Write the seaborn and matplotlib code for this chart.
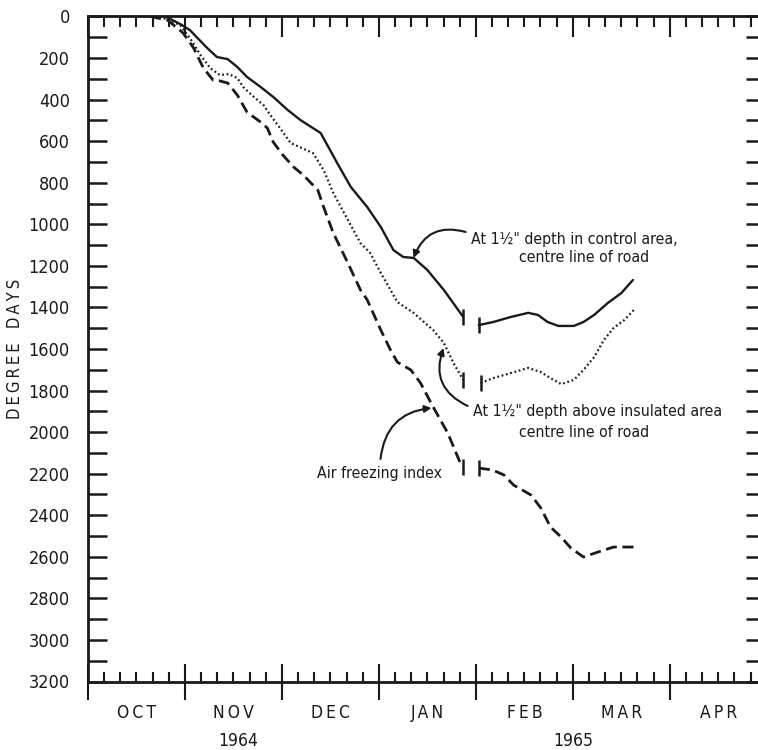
import pandas as pd
import seaborn as sns
import matplotlib.pyplot as plt
from matplotlib.ticker import MultipleLocator

# x = months counted from 1 Oct 1964 (every month drawn the same width)
# y = degree days (axis runs downward)

# At 1 1/2" depth in control area, centre line of road (solid)
control_x1 = [0.80, 0.87, 0.95, 1.05, 1.23, 1.33, 1.44, 1.54, 1.64, 1.78, 1.91, 2.06,
              2.19, 2.40, 2.57, 2.71, 2.88, 3.02, 3.15, 3.25, 3.36, 3.50, 3.67, 3.87]
control_y1 = [0, 17, 36, 65, 152, 195, 205, 243, 291, 339, 387, 450,
              498, 561, 705, 820, 917, 1013, 1124, 1157, 1162, 1220, 1316, 1446]
control_x2 = [4.03, 4.18, 4.36, 4.54, 4.64, 4.74, 4.85, 5.01, 5.11, 5.22, 5.36, 5.50, 5.62]
control_y2 = [1485, 1470, 1446, 1426, 1436, 1470, 1489, 1489, 1470, 1436, 1379, 1331, 1268]

# At 1 1/2" depth above insulated area, centre line of road (dotted)
insul_x1 = [0.74, 0.95, 1.05, 1.16, 1.26, 1.36, 1.45, 1.54, 1.60, 1.71, 1.81, 1.88, 1.98,
            2.09, 2.32, 2.43, 2.53, 2.68, 2.81, 2.91, 3.02, 3.12, 3.19, 3.36, 3.56, 3.67,
            3.77, 3.87]
insul_y1 = [0, 41, 103, 185, 248, 282, 277, 296, 339, 387, 426, 474, 537,
            609, 657, 739, 849, 979, 1090, 1138, 1234, 1316, 1374, 1427, 1509, 1571,
            1668, 1749]
insul_x2 = [4.05, 4.18, 4.36, 4.54, 4.67, 4.77, 4.88, 5.01, 5.11, 5.22, 5.32, 5.42, 5.53, 5.63]
insul_y2 = [1764, 1740, 1716, 1691, 1711, 1740, 1769, 1749, 1701, 1639, 1557, 1499, 1461, 1412]

# Air freezing index (dashed)
air_x1 = [0.64, 0.82, 0.98, 1.09, 1.19, 1.29, 1.36, 1.44, 1.54, 1.64, 1.78, 1.85, 1.91,
          2.01, 2.12, 2.22, 2.37, 2.43, 2.53, 2.68, 2.81, 2.88, 3.02, 3.12, 3.19, 3.33,
          3.43, 3.56, 3.71, 3.84, 3.87]
air_y1 = [0, 17, 79, 152, 248, 306, 310, 320, 378, 460, 508, 537, 604,
          667, 724, 763, 835, 917, 1042, 1186, 1316, 1364, 1509, 1605, 1663, 1701,
          1764, 1879, 2004, 2149, 2168]
air_x2 = [4.03, 4.17, 4.29, 4.39, 4.57, 4.67, 4.77, 4.88, 4.98, 5.11, 5.26, 5.42, 5.63]
air_y2 = [2173, 2182, 2206, 2255, 2303, 2365, 2457, 2505, 2558, 2601, 2577, 2553, 2553]

months = ['OCT', 'NOV', 'DEC', 'JAN', 'FEB', 'MAR', 'APR']
years = ['1964', '1965']
year_x = [1.55, 5.0]

sns.set_style('ticks')
plt.rcParams['font.family'] = ['DejaVu Sans Condensed', 'DejaVu Sans']
plt.rcParams['font.stretch'] = 'condensed'

fig = plt.figure(figsize=(7.58, 7.5), dpi=100)
ax = fig.add_axes([88 / 758, 68.5 / 750, 670 / 758, 665 / 750])

ink = '#1a1a1a'
series = [
    (control_x1, control_y1, control_x2, control_y2, '-', 1.7),
    (insul_x1, insul_y1, insul_x2, insul_y2, (0, (0.8, 1.2)), 1.6),
    (air_x1, air_y1, air_x2, air_y2, (0, (4, 2)), 2.0),
]
for x1, y1, x2, y2, ls, lw in series:
    for xs, ys in [(x1, y1), (x2, y2)]:
        df = pd.DataFrame({'month': xs, 'dd': ys})
        sns.lineplot(data=df, x='month', y='dd', ax=ax, color=ink, linestyle=ls,
                     linewidth=lw, estimator=None, sort=False)
    # small bars marking the break in the record
    ax.plot([x1[-1]], [y1[-1]], marker='|', markersize=11, mew=1.8, color=ink)
    ax.plot([x2[0]], [y2[0]], marker='|', markersize=11, mew=1.8, color=ink)
for line in ax.get_lines():
    line.set_solid_joinstyle('round')
    line.set_dash_joinstyle('round')

ax.set_xlim(0, 6.91)
ax.set_ylim(3200, 0)
ax.set_xlabel('')
ax.set_ylabel('D\u2009E\u2009G\u2009R\u2009E\u2009E   D\u2009A\u2009Y\u2009S', fontsize=12,
              color=ink)
ax.yaxis.set_label_coords(-0.095, 0.5)

# spines
for side in ['left', 'bottom', 'top']:
    ax.spines[side].set_linewidth(2.0)
    ax.spines[side].set_color(ink)
ax.spines['right'].set_visible(False)

# y ticks: left every 100, labels every 200
ax.set_yticks(range(0, 3201, 200))
ax.set_yticklabels([str(v) for v in range(0, 3201, 200)])
ax.yaxis.set_minor_locator(MultipleLocator(100))
ax.tick_params(axis='y', which='both', direction='in', length=14, width=1.8,
               color=ink, labelsize=13, pad=13, labelcolor=ink)

right = ax.secondary_yaxis('right')
right.yaxis.set_major_locator(MultipleLocator(100))
right.tick_params(direction='in', length=9, width=1.8, color=ink, labelright=False)
right.spines['right'].set_visible(False)

# x ticks: month boundaries and 5-day marks
ax.xaxis.set_major_locator(MultipleLocator(1))
ax.xaxis.set_minor_locator(MultipleLocator(1 / 6))
ax.tick_params(axis='x', which='major', direction='inout', length=26, width=1.5,
               color=ink, labelbottom=False)
ax.tick_params(axis='x', which='minor', direction='in', length=7, width=1.5, color=ink)

top = ax.secondary_xaxis('top')
top.xaxis.set_major_locator(MultipleLocator(1))
top.xaxis.set_minor_locator(MultipleLocator(1 / 6))
top.tick_params(which='major', direction='in', length=15, width=1.5, color=ink,
                labeltop=False)
top.tick_params(which='minor', direction='in', length=8, width=1.5, color=ink)

trans = ax.get_xaxis_transform()
for i, m in enumerate(months):
    ax.text(i + 0.5, -0.048, '\u2009'.join(m), transform=trans, ha='center',
            va='center', fontsize=12.5, color=ink)
for x, yr in zip(year_x, years):
    ax.text(x, -0.09, yr, transform=trans, ha='center', va='center',
            fontsize=12.5, color=ink)

# annotations
fs = 11.3
arrow = dict(arrowstyle='-|>', color=ink, lw=1.5, mutation_scale=10,
             shrinkA=0, shrinkB=0)
ax.text(3.946, 1075, 'At 1\u00bd" depth in control area,', fontsize=fs,
        ha='left', va='center', color=ink)
ax.text(4.442, 1160, 'centre line of road', fontsize=fs, ha='left', va='center', color=ink)
ax.annotate('', xy=(3.357, 1162), xytext=(3.895, 1037),
            arrowprops=dict(arrow, connectionstyle='arc3,rad=0.45'))

ax.text(3.967, 1900, 'At 1\u00bd" depth above insulated area', fontsize=fs,
        ha='left', va='center', color=ink)
ax.text(4.442, 2004, 'centre line of road', fontsize=fs, ha='left', va='center', color=ink)
ax.annotate('', xy=(3.667, 1595), xytext=(3.915, 1874),
            arrowprops=dict(arrow, connectionstyle='arc3,rad=-0.45'))

ax.text(3.006, 2197, 'Air freezing index', fontsize=fs, ha='center', va='center',
        color=ink)
ax.annotate('', xy=(3.543, 1884), xytext=(3.017, 2129),
            arrowprops=dict(arrow, connectionstyle='arc3,rad=-0.4'))

fig.savefig('out.png', dpi=100, facecolor='white')
